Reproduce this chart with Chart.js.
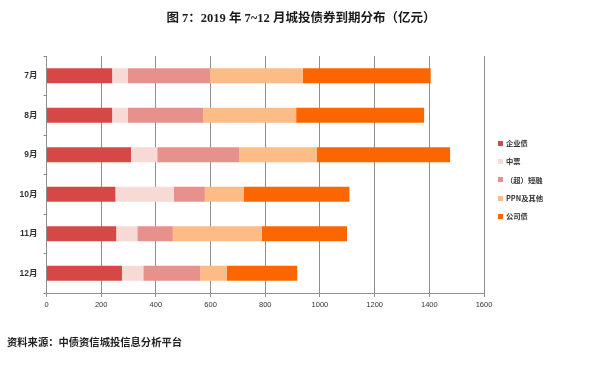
<!DOCTYPE html>
<html><head><meta charset="utf-8">
<script src="https://cdn.jsdelivr.net/npm/chart.js@4"></script>
<style>
html,body{margin:0;padding:0;background:#fff;}
#wrap{position:relative;width:602px;height:365px;overflow:hidden;background:#fff;}
#c{position:absolute;left:0;top:0;}
#title{position:absolute;top:7px;left:0;width:602px;text-align:center;font:bold 12.5px "Liberation Serif","Noto Sans CJK SC";color:#1a1a1a;white-space:nowrap;}
#src{position:absolute;left:7px;top:334px;font:bold 10.3px "Noto Sans CJK SC";color:#222;white-space:nowrap;}
#legend{position:absolute;left:498px;top:134px;font:bold 7.3px "Noto Sans CJK SC","Liberation Sans";color:#333;}
.li{height:18.3px;display:flex;align-items:center;white-space:nowrap;}
.sw{width:5px;height:5px;margin-right:3px;flex:none;}
</style></head>
<body>
<div id="wrap">
<canvas id="c" width="602" height="365"></canvas>
<div id="title">图 7：2019 年 7~12 月城投债券到期分布（亿元）</div>
<div id="legend"></div>
<div id="src">资料来源：中债资信城投信息分析平台</div>
</div>
<script>
const categories = ['7月','8月','9月','10月','11月','12月'];
const seriesNames = ['企业债','中票','（超）短融','PPN及其他','公司债'];
const seriesColors = ['#d64846','#f7dad6','#e8908b','#fdbb85','#fb6600'];
const enterpriseBond = [240,240,309,252,255,276];
const mediumTermNote = [58,58,96,213,77,78];
const shortTermBill = [300,275,300,114,130,209];
const ppnOther = [339,340,283,142,326,96];
const corporateBond = [468,468,488,387,311,258];
const xTickValues = [0,200,400,600,800,1000,1200,1400,1600];

const seriesValues = [enterpriseBond, mediumTermNote, shortTermBill, ppnOther, corporateBond];
const gridColor = '#8e8e8e';

const chart = new Chart(document.getElementById('c'), {
  type: 'bar',
  data: {
    labels: categories,
    datasets: seriesNames.map((n,i)=>({
      label: n,
      data: seriesValues[i],
      backgroundColor: seriesColors[i],
      borderWidth: 0,
      barPercentage: 0.38,
      categoryPercentage: 1
    }))
  },
  options: {
    indexAxis: 'y',
    responsive: false,
    animation: false,
    layout: { padding: { left: 0, right: 118, top: 56, bottom: 0 } },
    plugins: { legend: { display: false }, tooltip: { enabled: false }, title: { display: false } },
    scales: {
      x: {
        stacked: true,
        min: 0, max: 1600,
        afterBuildTicks: (s) => { s.ticks = xTickValues.map(v => ({ value: v })); },
        afterFit: (s) => { s.height = 72; },
        grid: { color: gridColor, lineWidth: 1, tickLength: 4, drawTicks: true },
        border: { color: gridColor, width: 1 },
        ticks: { padding: 3, color: '#333', font: { family: 'Liberation Sans', size: 7.5 }, callback: (v) => String(v) }
      },
      y: {
        stacked: true,
        afterFit: (s) => { s.width = 46.5; },
        grid: { drawOnChartArea: false, color: gridColor, tickLength: 3, offset: true },
        border: { color: gridColor, width: 1 },
        ticks: { padding: 6, color: '#333', font: { family: 'Liberation Sans, Noto Sans CJK SC', size: 8.5, weight: 'bold' } }
      }
    }
  }
});

const lg = document.getElementById('legend');
chart.data.datasets.forEach(ds => {
  const d = document.createElement('div'); d.className = 'li';
  const s = document.createElement('span'); s.className = 'sw'; s.style.background = ds.backgroundColor;
  const t = document.createElement('span'); t.textContent = ds.label;
  d.appendChild(s); d.appendChild(t); lg.appendChild(d);
});
</script>
</body></html>
